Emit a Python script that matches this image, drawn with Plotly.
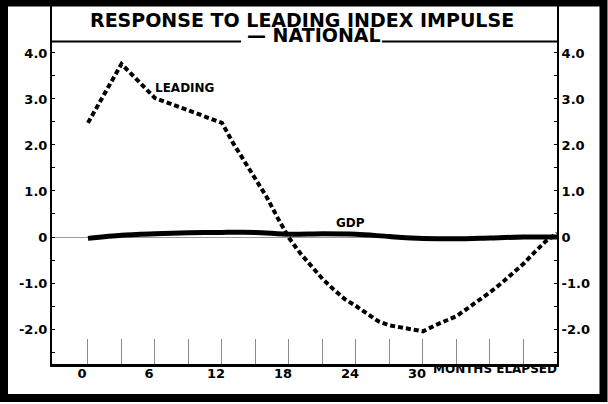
import plotly.graph_objects as go

# ---------------- data ----------------
leading_months = [0, 3, 6, 12, 13, 14, 15, 16, 17, 18, 19, 20, 21, 22, 23, 24, 25, 26, 27,
                  28, 29, 30, 31, 32, 33, 34, 35, 36, 37, 38, 39, 40, 41, 42]
leading_values = [2.48, 3.76, 3.02, 2.48, 2.04, 1.64, 1.26, 0.87, 0.41, -0.02, -0.35, -0.64,
                  -0.91, -1.14, -1.35, -1.50, -1.67, -1.83, -1.92, -1.97, -2.02, -2.05, -1.93,
                  -1.83, -1.72, -1.55, -1.38, -1.20, -1.01, -0.80, -0.58, -0.33, -0.09, 0.08]

gdp_months = [0, 3, 6, 9, 12, 15, 18, 21, 24, 27, 30, 33, 36, 39, 42]
gdp_values = [-0.03, 0.04, 0.07, 0.09, 0.10, 0.10, 0.06, 0.07, 0.06, 0.01, -0.03, -0.04,
              -0.02, 0.0, 0.0]

x_tick_vals = [0, 6, 12, 18, 24, 30]
x_tick_text = ["0", "6", "12", "18", "24", "30"]
x_minor_vals = [3, 9, 15, 21, 27, 33, 36, 39]
y_tick_vals = [-2, -1, 0, 1, 2, 3, 4]
y_tick_text = ["-2.0", "-1.0", "0", "1.0", "2.0", "3.0", "4.0"]
y_minor_vals = [-2.5, -1.5, -0.5, 0.5, 1.5, 2.5, 3.5]

title_line1 = "RESPONSE TO LEADING INDEX IMPULSE"
title_line2 = "— NATIONAL"

# ---------------- layout geometry ----------------
W, H = 608, 404
L, R, T, B = 52, 557, 6, 364


def px(x):
    return (x - L) / (R - L)


def py(y):
    return (B - y) / (B - T)


FONT = "DejaVu Sans"

fig = go.Figure()
fig.add_trace(go.Scatter(
    x=gdp_months, y=gdp_values, mode="lines", name="GDP",
    line=dict(color="black", width=5, shape="spline", smoothing=0.8),
    showlegend=False))
fig.add_trace(go.Scatter(
    x=leading_months, y=leading_values, mode="lines", name="LEADING",
    line=dict(color="black", width=4, dash="5px,3px"),
    showlegend=False))
# invisible trace for right axis
fig.add_trace(go.Scatter(x=[None], y=[None], yaxis="y2", showlegend=False))

yr = [-2.76, 5.02]
tickfont = dict(family=FONT, size=13, color="black", weight="bold")

fig.update_layout(
    width=W, height=H, autosize=False,
    margin=dict(l=L, r=W - R, t=T, b=H - B, pad=0),
    paper_bgcolor="white", plot_bgcolor="white",
    xaxis=dict(
        range=[-3.22, 42.0], showgrid=False, zeroline=False,
        showline=True, linecolor="black", linewidth=2.5,
        tickmode="array", tickvals=x_tick_vals, ticktext=x_tick_text,
        ticks="inside", ticklen=25, tickcolor="#8a8a8a", tickwidth=1,
        ticklabelshift=-6, ticklabelstandoff=-4,
        tickfont=tickfont,
        minor=dict(tickvals=x_minor_vals, ticks="inside", ticklen=25,
                   tickcolor="#8a8a8a", tickwidth=1),
    ),
    yaxis=dict(
        range=yr, showgrid=False,
        zeroline=True, zerolinecolor="#9a9a9a", zerolinewidth=1,
        showline=True, linecolor="black", linewidth=2,
        tickmode="array", tickvals=y_tick_vals, ticktext=y_tick_text,
        ticks="inside", ticklen=3, tickcolor="black", tickwidth=1,
        tickfont=tickfont,
        minor=dict(tickvals=y_minor_vals, ticks="inside", ticklen=3,
                   tickcolor="black", tickwidth=1),
    ),
    yaxis2=dict(
        range=yr, overlaying="y", side="right", showgrid=False, zeroline=False,
        showline=True, linecolor="black", linewidth=2,
        tickmode="array", tickvals=y_tick_vals, ticktext=y_tick_text,
        ticks="inside", ticklen=3, tickcolor="black", tickwidth=1,
        tickfont=tickfont,
        minor=dict(tickvals=y_minor_vals, ticks="inside", ticklen=3,
                   tickcolor="black", tickwidth=1),
    ),
)

shapes = []
# outer thick frame (stroked rectangle)
shapes.append(dict(type="rect", xref="paper", yref="paper",
                   x0=px(4), x1=px(603.5), y0=py(398), y1=py(2.5),
                   fillcolor="rgba(0,0,0,0)", line=dict(color="black", width=8),
                   layer="above"))
# title separator line
for (x0, x1) in [(L, 241), (382, R)]:
    shapes.append(dict(type="line", xref="paper", yref="paper",
                       x0=px(x0), x1=px(x1), y0=py(41.5), y1=py(41.5),
                       line=dict(color="black", width=2)))
fig.update_layout(shapes=shapes)

ann = []
ann.append(dict(text=title_line1, xref="paper", yref="paper", x=px(302), y=py(19.5),
                xanchor="center", yanchor="middle", showarrow=False,
                font=dict(family=FONT, size=19, color="black", weight="bold")))
ann.append(dict(text=title_line2, xref="paper", yref="paper", x=px(314), y=py(35),
                xanchor="center", yanchor="middle", showarrow=False,
                font=dict(family=FONT, size=19, color="black", weight="bold")))
ann.append(dict(text="LEADING", xref="x", yref="y", x=5.8, y=3.24,
                xanchor="left", yanchor="middle", showarrow=False,
                font=dict(family=FONT, size=12, color="black", weight="bold")))
ann.append(dict(text="GDP", xref="x", yref="y", x=23.5, y=0.31,
                xanchor="center", yanchor="middle", showarrow=False,
                font=dict(family=FONT, size=12, color="black", weight="bold")))
ann.append(dict(text="MONTHS ELAPSED", xref="paper", yref="paper", x=px(431), y=py(369),
                xanchor="left", yanchor="middle", showarrow=False,
                font=dict(family=FONT, size=12, color="black", weight="bold")))
fig.update_layout(annotations=ann)

fig.write_html("out.html", config={"displayModeBar": False},
               post_script="document.body.style.margin='0px';document.body.style.padding='0px';")
